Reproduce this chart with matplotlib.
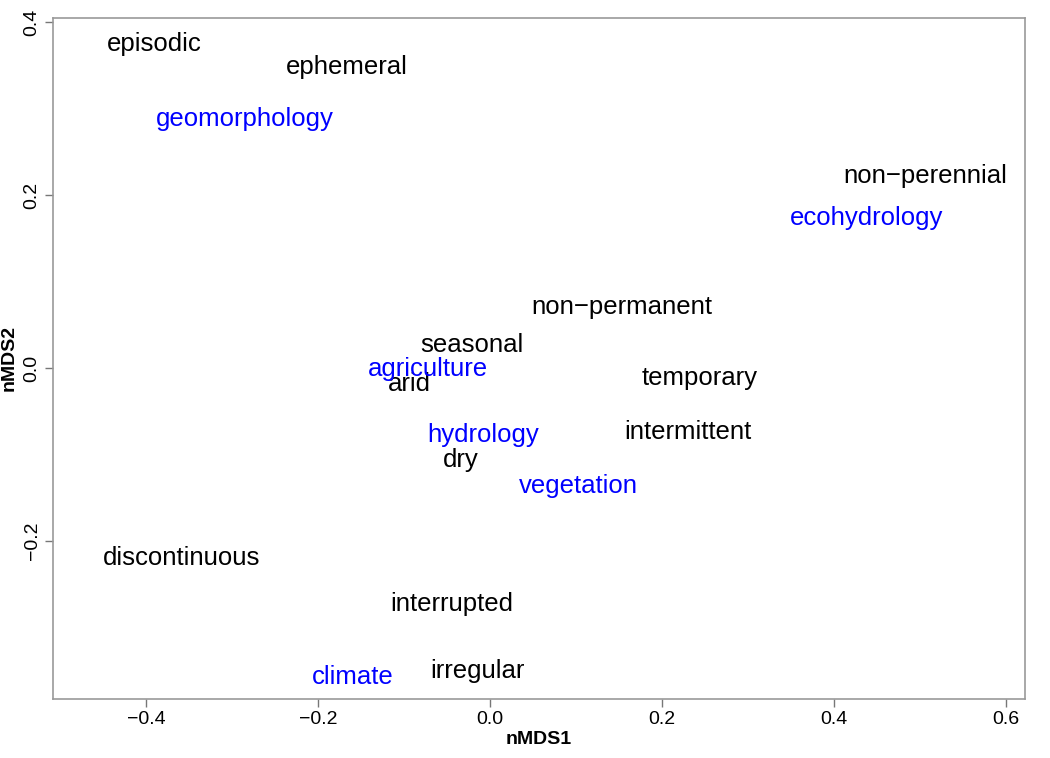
import matplotlib.pyplot as plt

plt.rcParams["font.family"] = ["Liberation Sans", "DejaVu Sans"]

# nMDS scores
terms = ["episodic", "ephemeral", "non\u2212perennial", "non\u2212permanent", "seasonal",
         "arid", "temporary", "intermittent", "dry", "discontinuous", "interrupted", "irregular"]
terms_x = [-0.390, -0.167, 0.506, 0.153, -0.021, -0.094, 0.244, 0.230, -0.034, -0.359, -0.044, -0.014]
terms_y = [0.375, 0.348, 0.222, 0.071, 0.027, -0.019, -0.011, -0.074, -0.107, -0.220, -0.273, -0.351]

fields = ["geomorphology", "ecohydrology", "agriculture", "hydrology", "vegetation", "climate"]
fields_x = [-0.285, 0.438, -0.072, -0.008, 0.103, -0.159]
fields_y = [0.288, 0.174, -0.001, -0.078, -0.136, -0.358]

xticks = [-0.4, -0.2, 0.0, 0.2, 0.4, 0.6]
yticks = [-0.2, 0.0, 0.2, 0.4]

fig = plt.figure(figsize=(10.5, 7.58), dpi=100)
ax = fig.add_axes([53 / 1050, 1 - 699 / 758, (1025 - 53) / 1050, (699 - 18) / 758])

for t, x, y in zip(terms, terms_x, terms_y):
    ax.text(x, y, t, ha="center", va="center", fontsize=18.5, color="black")
for t, x, y in zip(fields, fields_x, fields_y):
    ax.text(x, y, t, ha="center", va="center", fontsize=18.5, color="#0000ff")

ax.set_xlim(-0.508, 0.622)
ax.set_ylim(-0.383, 0.405)
ax.set_xticks(xticks)
ax.set_yticks(yticks)
ax.set_xticklabels([f"{v:.1f}".replace("-", "\u2212") for v in xticks])
ax.set_yticklabels([f"{v:.1f}".replace("-", "\u2212") for v in yticks], rotation=90, va="center")
ax.tick_params(labelsize=14, length=6, color="#777777", width=1, pad=3)

for s in ax.spines.values():
    s.set_color("#999999")
    s.set_linewidth(1.2)

ax.set_xlabel("nMDS1", fontsize=14, fontweight="bold", labelpad=2)
ax.set_ylabel("nMDS2", fontsize=14, fontweight="bold", labelpad=4)

fig.savefig("out.png", dpi=100)
